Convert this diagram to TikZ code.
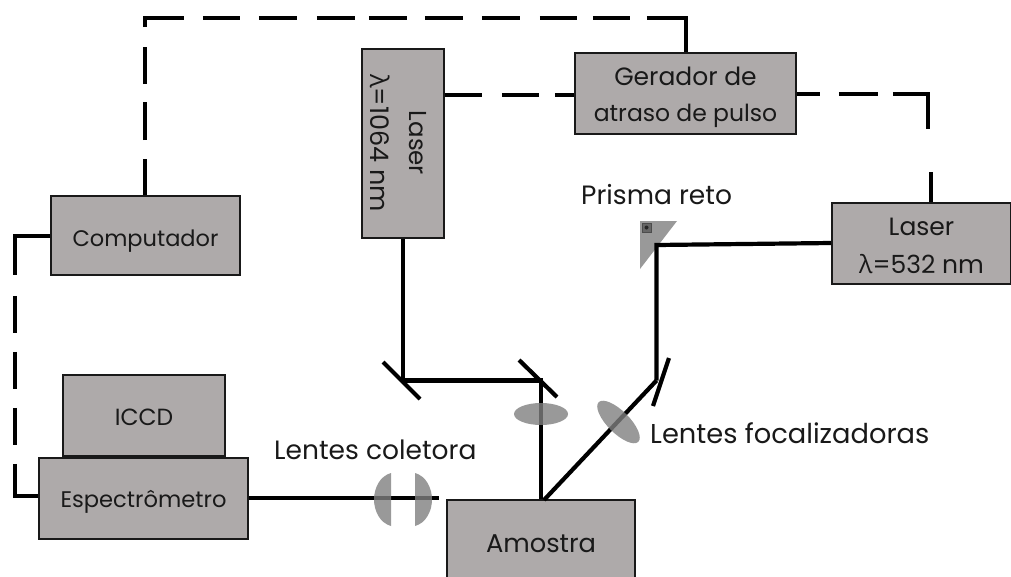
\documentclass[tikz,border=0pt]{standalone}
\usepackage{fontspec}
\setmainfont{Poppins}
\newfontfamily\symf{Open Sans}
\newcommand{\lam}{{\symf λ}}
\newcommand{\dn}[2]{\raisebox{-#1pt}[0pt][0pt]{#2}}
\definecolor{boxgray}{HTML}{AEAAAA}
\definecolor{lensgray}{HTML}{7F7F7F}
\tikzset{
  box/.style={draw=black!90,line width=1.8pt,fill=boxgray,inner sep=0pt,align=center,text=black!90},
  beam/.style={line width=4.2pt,line cap=butt,line join=miter,black},
  sig/.style={line width=4.5pt,black},
  lbl/.style={inner sep=0pt,text=black!90},
  lens/.style={fill=lensgray,opacity=.8,draw=none}
}
\newcommand{\fs}[2]{\fontsize{#1}{#2}\selectfont}
\begin{document}
\begin{tikzpicture}[x=1pt,y=-1pt]
\useasboundingbox (0,0) rectangle (1011,576);
% signal lines
\coordinate (c1) at (145,18);
\coordinate (c2) at (686,18);
\coordinate (c3) at (15,236);
\coordinate (c4) at (15,496);
\coordinate (c5) at (928,94);
\coordinate (c6) at (928,129);
\coordinate (c7) at (931,172);
% boxes
\node[box,minimum width=189pt,minimum height=79pt,font=\fs{22.5}{30}] (comp) at (145.5,235.5) {\dn{10.5}{Computador}};
\node[box,minimum width=162pt,minimum height=81pt,font=\fs{23.4}{30}] (iccd) at (144,415.5) {\dn{10}{ICCD}};
\node[box,minimum width=209pt,minimum height=81pt,font=\fs{22.6}{30}] (espec) at (143.5,498.5) {\dn{9}{Espectrômetro}};
\node[box,minimum width=188pt,minimum height=90pt,font=\fs{25.7}{30}] (amostra) at (541,545) {\dn{7.7}{Amostra}};
\node[box,minimum width=82pt,minimum height=189pt] (l1064) at (403,143.5) {};
\node[font=\fs{25.5}{39},text=black!90,rotate=-90,align=center,inner sep=0pt] (l1064t) at (398,143) {{\fs{24.5}{39}Laser}\\\lam=1064 nm};
\node[box,minimum width=221pt,minimum height=81pt,font=\fs{23.5}{36}] (gerador) at (685.5,93.5) {\dn{10.4}{\fs{25}{36}Gerador de}\\\dn{10.4}{atraso de pulso}};
\node[box,minimum width=179pt,minimum height=81pt,font=\fs{25}{38}] (l532) at (921.5,243.5) {\dn{10.5}{Laser}\\\dn{10.5}{\lam=532 nm}};
% dashed electric connections
\draw[sig,dash pattern=on 36pt off 19pt on 38pt off 18pt on 37pt off 20pt on 48pt off 19pt on 37pt off 19pt on 38pt off 20pt on 38pt off 14pt on 38pt off 18pt on 38pt off 19pt on 38pt off 20pt on 37pt off 16pt on 37pt off 17pt on 200pt off 1pt] (comp.north -| c1) -- (c1) -- (c2) -- (gerador.north -| c2);
\draw[sig,dash pattern=on 37pt off 20pt on 37pt off 16pt on 40pt off 1pt] (l1064.east |- 0,95) -- (gerador.west |- 0,95);
\draw[sig,dash pattern=on 23pt off 19pt on 39pt off 15pt on 200pt off 1pt] (gerador.east |- c5) -- (c5) -- (c6);
\draw[sig] (c7) -- (l532.north -| c7);
\draw[sig,dash pattern=on 74pt off 21pt on 37pt off 19pt on 37pt off 19pt on 37pt off 19pt on 80pt off 1pt] (comp.west |- c3) -- (c3) -- (c4) -- (espec.west |- c4);
% optical path
\coordinate (m1) at (403,380.5);
\coordinate (m2) at (541,380.5);
\coordinate (m3) at (656.5,380.5);
\coordinate (pr) at (656.5,245);
\coordinate (colend) at (439,498);
\fill[black!40] (640,221) coordinate (p1) -- (677,221) -- (640,269) -- cycle;
\draw[fill=black!60,draw=black!70,line width=.6pt] (642,223) rectangle (651,232);
\fill[black!85] (646.5,227.5) circle (2pt);
\draw[beam] (l1064.south -| m1) -- (m1) -- (m2) -- (amostra.north -| m2);
\draw[beam] (l532.west |- 0,243) -- (pr) -- (m3);
\draw[beam] (544,500) -- (m3);
\draw[beam] (espec.east |- colend) -- (colend);
\coordinate (a) at (383,362); \coordinate (b) at (420,399);
\draw[beam] (a) -- (b);
\coordinate (a2) at (519,360); \coordinate (b2) at (557,397);
\draw[beam] (a2) -- (b2);
\coordinate (a3) at (669,358); \coordinate (b3) at (653,406);
\draw[beam] (a3) -- (b3);
% lenses
\fill[lens] (541,414) ellipse [x radius=27,y radius=11];
\fill[lens,rotate around={-45:(618.5,422)}] (618.5,422) ellipse [x radius=28,y radius=11];
\fill[lens] (391,473) .. controls (380,476) and (374,488) .. (374,499.5) .. controls (374,511) and (380,523) .. (391,526) -- cycle;
\fill[lens] (415,473) .. controls (426,476) and (432,488) .. (432,499.5) .. controls (432,511) and (426,523) .. (415,526) -- cycle;
% labels
\node[lbl,anchor=west,font=\fs{26.5}{30}] (t1) at (274,450) {Lentes coletora};
\node[lbl,anchor=west,font=\fs{27.3}{30}] (t2) at (650,433) {Lentes focalizadoras};
\node[lbl,anchor=west,font=\fs{26.5}{30}] (t3) at (581,195) {Prisma reto};
\end{tikzpicture}
\end{document}
